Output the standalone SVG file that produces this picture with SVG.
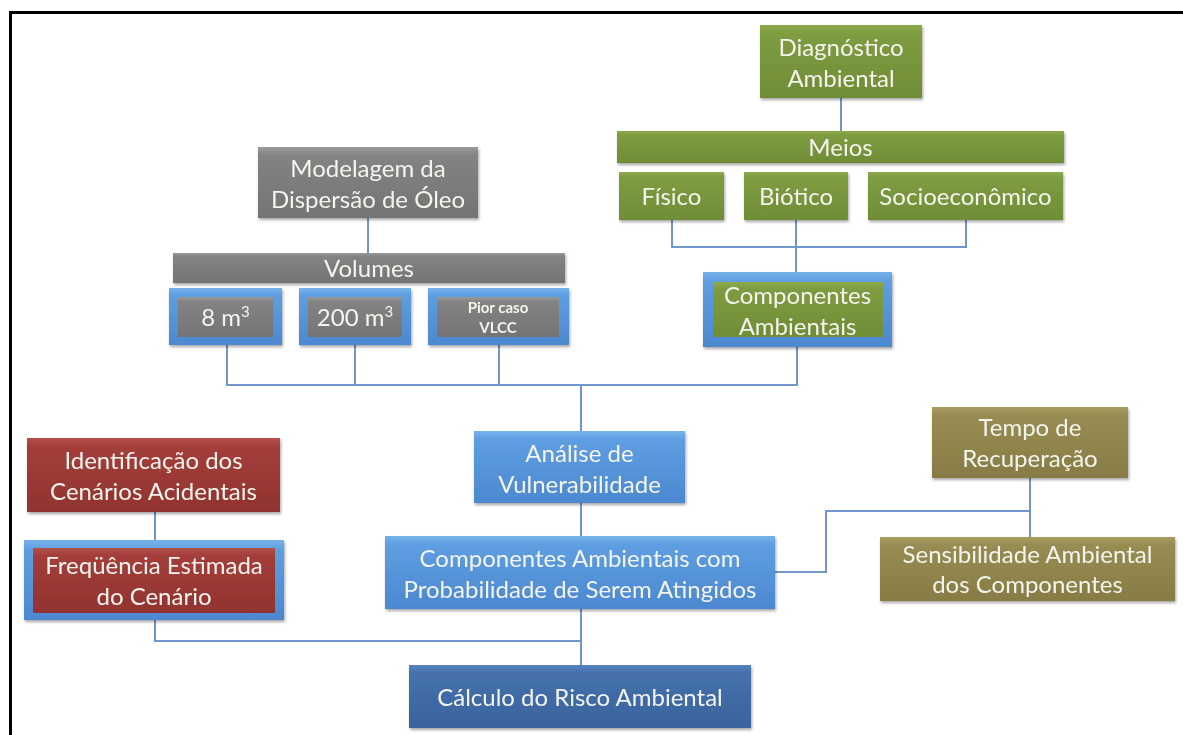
<svg xmlns="http://www.w3.org/2000/svg" width="1183" height="735" viewBox="0 0 1183 735">
<defs>
<linearGradient id="gGreen" x1="0" y1="0" x2="0" y2="1"><stop offset="0" stop-color="#8EAC4C"/><stop offset="0.12" stop-color="#7E9C40"/><stop offset="1" stop-color="#6F8D36"/></linearGradient>
<linearGradient id="gGray" x1="0" y1="0" x2="0" y2="1"><stop offset="0" stop-color="#9A9A9A"/><stop offset="0.12" stop-color="#838383"/><stop offset="1" stop-color="#747474"/></linearGradient>
<linearGradient id="gBlue" x1="0" y1="0" x2="0" y2="1"><stop offset="0" stop-color="#78B2EC"/><stop offset="0.12" stop-color="#5E9EE0"/><stop offset="1" stop-color="#4C88D0"/></linearGradient>
<linearGradient id="gDark" x1="0" y1="0" x2="0" y2="1"><stop offset="0" stop-color="#5584BE"/><stop offset="0.12" stop-color="#4571AC"/><stop offset="1" stop-color="#3A639C"/></linearGradient>
<linearGradient id="gRed" x1="0" y1="0" x2="0" y2="1"><stop offset="0" stop-color="#B4504B"/><stop offset="0.12" stop-color="#A33E3A"/><stop offset="1" stop-color="#913330"/></linearGradient>
<linearGradient id="gOlive" x1="0" y1="0" x2="0" y2="1"><stop offset="0" stop-color="#A89D62"/><stop offset="0.12" stop-color="#978C52"/><stop offset="1" stop-color="#877C44"/></linearGradient>
<filter id="sh" x="-10%" y="-10%" width="120%" height="130%"><feDropShadow dx="1" dy="2" stdDeviation="1.5" flood-color="#000" flood-opacity="0.35"/></filter>
</defs>
<style>
.t{font-family:Lato,"Liberation Sans",sans-serif;font-size:24px;fill:#F4F4EE;text-anchor:middle}
.s{font-family:Lato,"Liberation Sans",sans-serif;font-size:15px;font-weight:bold;fill:#F4F4EE;text-anchor:middle}
.sup{font-size:15px}
.c{fill:none;stroke:#7096CA;stroke-width:2}
.g{fill:url(#gGreen)}
.y{fill:url(#gGray)}
.b{fill:url(#gBlue)}
.d{fill:url(#gDark)}
.r{fill:url(#gRed)}
.o{fill:url(#gOlive)}
.n{filter:url(#sh)}
</style>
<rect width="1183" height="735" fill="#fff"/>
<path d="M10.5,735 V12.5 H1183" fill="none" stroke="#000" stroke-width="3"/>
<g id="connectors">
<path class="c" d="M841,98 V131"/>
<path class="c" d="M672,220 V247 H966 V220"/>
<path class="c" d="M796,220 V272"/>
<path class="c" d="M368,218 V253"/>
<path class="c" d="M227,345 V385 H797 V347"/>
<path class="c" d="M355,345 V385"/>
<path class="c" d="M499,345 V385"/>
<path class="c" d="M581,385 V431"/>
<path class="c" d="M581,503 V536"/>
<path class="c" d="M581,609 V665"/>
<path class="c" d="M155,620 V641 H581"/>
<path class="c" d="M155,512 V540"/>
<path class="c" d="M775,572 H826 V511 H1030"/>
<path class="c" d="M1030,478 V537"/>
</g>
<g id="diagnostico" class="n"><rect class="g" x="760" y="25" width="162" height="73"/><text class="t" x="841" y="56">Diagnóstico</text><text class="t" x="841" y="87">Ambiental</text></g>
<g id="meios" class="n"><rect class="g" x="617" y="131" width="447" height="32"/><text class="t" x="840.5" y="156">Meios</text></g>
<g id="fisico" class="n"><rect class="g" x="619" y="172" width="105" height="48"/><text class="t" x="671.5" y="205">Físico</text></g>
<g id="biotico" class="n"><rect class="g" x="744" y="172" width="104" height="48"/><text class="t" x="796" y="205">Biótico</text></g>
<g id="socioeconomico" class="n"><rect class="g" x="868" y="172" width="195" height="48"/><text class="t" x="965.5" y="205">Socioeconômico</text></g>
<g id="componentes" class="n"><rect class="b" x="703" y="272" width="189" height="75"/><rect class="g" x="713" y="282" width="170" height="55"/><text class="t" x="797.5" y="304">Componentes</text><text class="t" x="797.5" y="335">Ambientais</text></g>
<g id="modelagem" class="n"><rect class="y" x="258" y="147" width="220" height="71"/><text class="t" x="368" y="177">Modelagem da</text><text class="t" x="368" y="208">Dispersão de Óleo</text></g>
<g id="volumes" class="n"><rect class="y" x="173" y="253" width="392" height="30"/><text class="t" x="369" y="277">Volumes</text></g>
<g id="v8" class="n"><rect class="b" x="169" y="288" width="113" height="57"/><rect class="y" x="178" y="297" width="95" height="40"/><text class="t" x="225.5" y="326">8 m<tspan class="sup" dy="-9">3</tspan></text></g>
<g id="v200" class="n"><rect class="b" x="299" y="288" width="112" height="57"/><rect class="y" x="308" y="297" width="94" height="40"/><text class="t" x="355" y="326">200 m<tspan class="sup" dy="-9">3</tspan></text></g>
<g id="vlcc" class="n"><rect class="b" x="428" y="288" width="141" height="57"/><rect class="y" x="437" y="297" width="122" height="40"/><text class="s" x="498" y="313">Pior caso</text><text class="s" x="498" y="333">VLCC</text></g>
<g id="analise" class="n"><rect class="b" x="474" y="431" width="211" height="72"/><text class="t" x="579.5" y="462">Análise de</text><text class="t" x="579.5" y="493">Vulnerabilidade</text></g>
<g id="ccp" class="n"><rect class="b" x="385" y="536" width="390" height="73"/><text class="t" x="580" y="567">Componentes Ambientais com</text><text class="t" x="580" y="598">Probabilidade de Serem Atingidos</text></g>
<g id="calculo" class="n"><rect class="d" x="409" y="665" width="342" height="63"/><text class="t" x="580" y="706">Cálculo do Risco Ambiental</text></g>
<g id="identificacao" class="n"><rect class="r" x="27" y="438" width="253" height="74"/><text class="t" x="153.5" y="469">Identificação dos</text><text class="t" x="153.5" y="500">Cenários Acidentais</text></g>
<g id="frequencia" class="n"><rect class="b" x="24" y="540" width="260" height="80"/><rect class="r" x="33" y="548" width="242" height="65"/><text class="t" x="154" y="574">Freqüência Estimada</text><text class="t" x="154" y="605">do Cenário</text></g>
<g id="tempo" class="n"><rect class="o" x="932" y="407" width="196" height="71"/><text class="t" x="1030" y="436">Tempo de</text><text class="t" x="1030" y="467">Recuperação</text></g>
<g id="sensibilidade" class="n"><rect class="o" x="880" y="537" width="295" height="64"/><text class="t" x="1027.5" y="563">Sensibilidade Ambiental</text><text class="t" x="1027.5" y="593">dos Componentes</text></g>
</svg>
